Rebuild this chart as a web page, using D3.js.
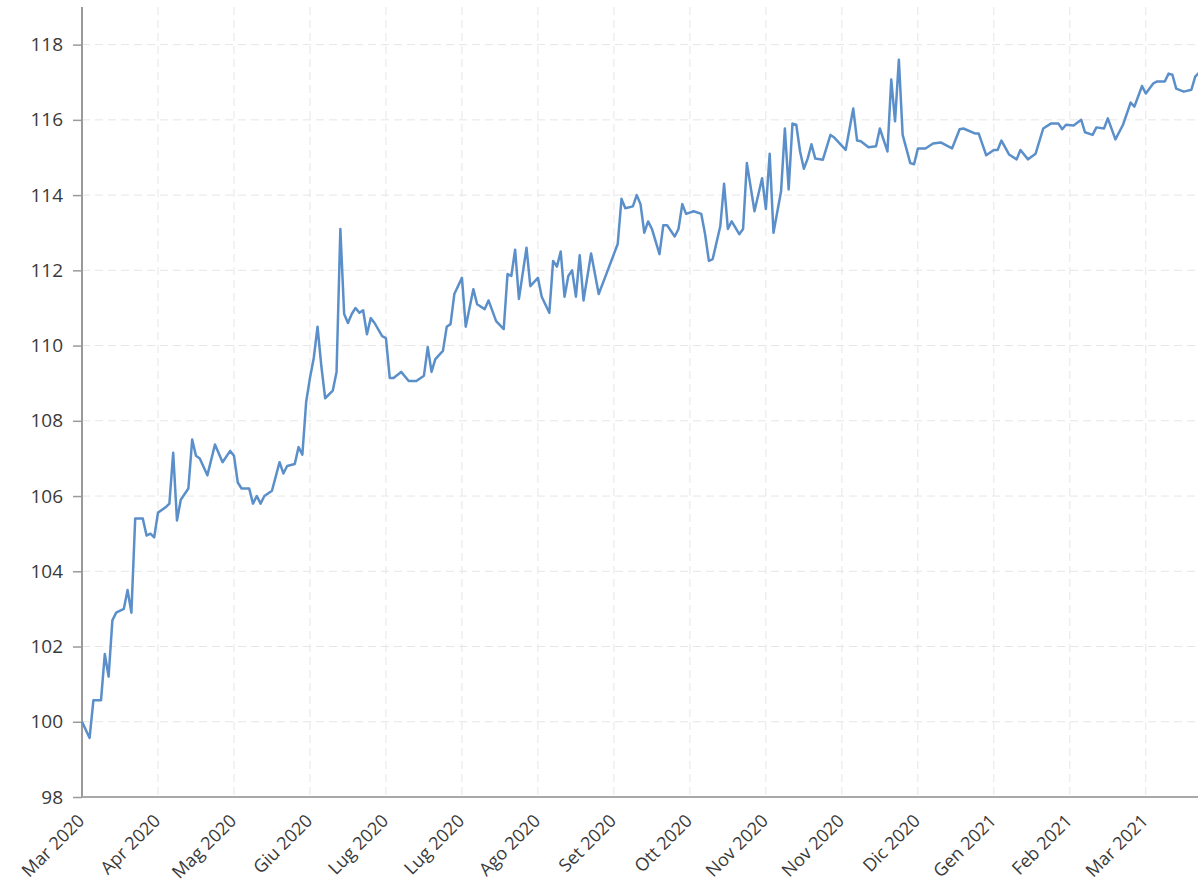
<!DOCTYPE html>
<html>
<head>
<meta charset="utf-8">
<script src="https://cdn.jsdelivr.net/npm/d3@7"></script>
<style>
  body { margin: 0; background: #fff; }
  text { font-family: "Open Sans", sans-serif; fill: #3a3a3a; }
</style>
</head>
<body>
<script>
// size of the page
var width = 1198;
var height = 883;
var margin = {top: 7, right: 0, bottom: 86, left: 82};

// trading day index (since first day) and value
var days = [0, 2, 3, 5, 6, 7, 8, 9, 11, 12, 13, 14, 16, 17, 18, 19, 20, 22, 23, 24,
    25, 26, 28, 29, 30, 31, 33, 35, 37, 39, 40, 41, 42, 44, 45, 46, 47, 48, 50, 52,
    53, 54, 56, 57, 58, 59, 60, 61, 62, 63, 64, 66, 67, 68, 69, 70, 71, 72, 73, 74,
    75, 76, 77, 79, 80, 81, 82, 84, 86, 88, 90, 91, 92, 93, 95, 96, 97, 98, 100, 101,
    103, 104, 106, 107, 109, 111, 112, 113, 114, 115, 117, 118, 120, 121, 123, 124, 125, 126, 127, 128,
    129, 130, 131, 132, 134, 136, 138, 141, 142, 143, 145, 146, 147, 148, 149, 150, 152, 153, 154, 156,
    157, 158, 159, 161, 163, 164, 165, 166, 168, 169, 170, 171, 173, 174, 175, 177, 179, 180, 181, 182,
    184, 185, 186, 187, 188, 189, 190, 191, 192, 193, 195, 197, 198, 201, 203, 204, 205, 207, 209, 210,
    212, 213, 214, 215, 216, 218, 219, 220, 222, 224, 226, 229, 231, 232, 235, 236, 237, 238, 240, 241,
    242, 244, 246, 247, 249, 251, 253, 255, 257, 258, 259, 261, 263, 264, 266, 267, 269, 270, 272, 274,
    276, 277, 279, 280, 282, 283, 285, 286, 287, 288, 290, 292, 293, 294];

var values = [100.0, 99.57, 100.57, 100.57, 101.8, 101.2, 102.7, 102.9, 103.0, 103.5, 102.9, 105.4, 105.4, 104.95, 105.0, 104.9, 105.56, 105.7, 105.8, 107.15,
    105.35, 105.9, 106.2, 107.5, 107.07, 107.0, 106.55, 107.37, 106.9, 107.2, 107.07, 106.36, 106.2, 106.2, 105.8, 106.0, 105.8, 106.0, 106.14, 106.9,
    106.6, 106.8, 106.85, 107.3, 107.1, 108.5, 109.14, 109.67, 110.5, 109.45, 108.6, 108.8, 109.3, 113.1, 110.84, 110.6, 110.84, 111.0, 110.87, 110.94,
    110.3, 110.73, 110.6, 110.25, 110.2, 109.14, 109.14, 109.3, 109.06, 109.06, 109.2, 109.96, 109.3, 109.64, 109.86, 110.5, 110.57, 111.37, 111.8, 110.5,
    111.5, 111.1, 110.97, 111.2, 110.65, 110.44, 111.9, 111.85, 112.55, 111.24, 112.6, 111.58, 111.8, 111.3, 110.87, 112.25, 112.1, 112.5, 111.3, 111.85,
    112.0, 111.3, 112.4, 111.2, 112.45, 111.37, 111.9, 112.7, 113.9, 113.65, 113.7, 114.0, 113.76, 113.0, 113.3, 113.1, 112.43, 113.2, 113.2, 112.9,
    113.1, 113.76, 113.5, 113.57, 113.5, 112.96, 112.25, 112.3, 113.17, 114.3, 113.1, 113.3, 112.96, 113.1, 114.85, 113.57, 114.45, 113.63, 115.1, 113.0,
    114.1, 115.77, 114.15, 115.9, 115.87, 115.16, 114.7, 114.97, 115.35, 114.97, 114.94, 115.6, 115.53, 115.2, 116.3, 115.45, 115.43, 115.27, 115.3, 115.77,
    115.16, 117.07, 115.96, 117.6, 115.6, 114.85, 114.82, 115.24, 115.24, 115.37, 115.4, 115.24, 115.75, 115.77, 115.64, 115.64, 115.35, 115.06, 115.2, 115.2,
    115.45, 115.08, 114.95, 115.2, 114.95, 115.1, 115.77, 115.9, 115.9, 115.75, 115.87, 115.85, 116.0, 115.67, 115.6, 115.8, 115.77, 116.04, 115.48, 115.87,
    116.46, 116.35, 116.9, 116.7, 116.97, 117.02, 117.02, 117.23, 117.2, 116.83, 116.75, 116.8, 117.15, 117.25];

// x axis: a label every 20 trading days
var tickDays = [0, 20, 40, 60, 80, 100, 120, 140, 160, 180, 200, 220, 240, 260, 280];
var tickLabels = ["Mar 2020", "Apr 2020", "Mag 2020", "Giu 2020", "Lug 2020", "Lug 2020", "Ago 2020", "Set 2020",
    "Ott 2020", "Nov 2020", "Nov 2020", "Dic 2020", "Gen 2021", "Feb 2021", "Mar 2021"];

// y axis
var yTicks = [98, 100, 102, 104, 106, 108, 110, 112, 114, 116, 118];

var data = days.map(function(d, i) { return {day: d, value: values[i]}; });

var svg = d3.select("body")
    .append("svg")
    .attr("width", width)
    .attr("height", height);

var xScale = d3.scaleLinear()
    .domain([0, 294])
    .range([margin.left, 1199]);

var yScale = d3.scaleLinear()
    .domain([98, 119])
    .range([height - margin.bottom, margin.top]);

// grid
svg.append("g")
    .selectAll("line")
    .data(yTicks.slice(1))
    .enter()
    .append("line")
    .attr("x1", margin.left)
    .attr("x2", width)
    .attr("y1", function(d) { return yScale(d); })
    .attr("y2", function(d) { return yScale(d); })
    .attr("stroke", "#e6e6e6")
    .attr("stroke-width", 1)
    .attr("stroke-dasharray", "8,5");

svg.append("g")
    .selectAll("line")
    .data(tickDays.slice(1))
    .enter()
    .append("line")
    .attr("x1", function(d) { return xScale(d); })
    .attr("x2", function(d) { return xScale(d); })
    .attr("y1", margin.top)
    .attr("y2", height - margin.bottom)
    .attr("stroke", "#e6e6e6")
    .attr("stroke-width", 1)
    .attr("stroke-dasharray", "8,5");

// y axis
var yAxis = d3.axisLeft(yScale)
    .tickValues(yTicks)
    .tickSize(9)
    .tickPadding(10)
    .tickFormat(d3.format("d"));

var yAxisGroup = svg.append("g")
    .attr("transform", "translate(" + margin.left + ",0)")
    .call(yAxis);
yAxisGroup.select(".domain").attr("stroke", "#9a9a9a").attr("stroke-width", 2).attr("d", "M0," + margin.top + "V" + (height - margin.bottom));
yAxisGroup.selectAll(".tick line").attr("stroke", "#9a9a9a").attr("stroke-width", 1.5);
yAxisGroup.selectAll("text").style("font-size", "19px").style("fill", "#3a3a3a");

// x axis
var xAxis = d3.axisBottom(xScale)
    .tickValues(tickDays)
    .tickSize(0)
    .tickFormat(function(d, i) { return tickLabels[i]; });

var xAxisGroup = svg.append("g")
    .attr("transform", "translate(0," + (height - margin.bottom) + ")")
    .call(xAxis);
xAxisGroup.select(".domain").attr("stroke", "#a8a8a8").attr("stroke-width", 2).attr("d", "M" + margin.left + ",0H" + width);
xAxisGroup.selectAll("text")
    .style("font-size", "18px")
    .style("fill", "#3a3a3a")
    .attr("text-anchor", "end")
    .attr("x", 0)
    .attr("y", 0)
    .attr("dy", 0)
    .attr("transform", "translate(3,25) rotate(-45)");

// line
var line = d3.line()
    .x(function(d) { return xScale(d.day); })
    .y(function(d) { return yScale(d.value); });

svg.append("path")
    .datum(data)
    .attr("fill", "none")
    .attr("stroke", "#5b8fca")
    .attr("stroke-width", 2.5)
    .attr("stroke-linejoin", "round")
    .attr("d", line);
</script>
</body>
</html>
